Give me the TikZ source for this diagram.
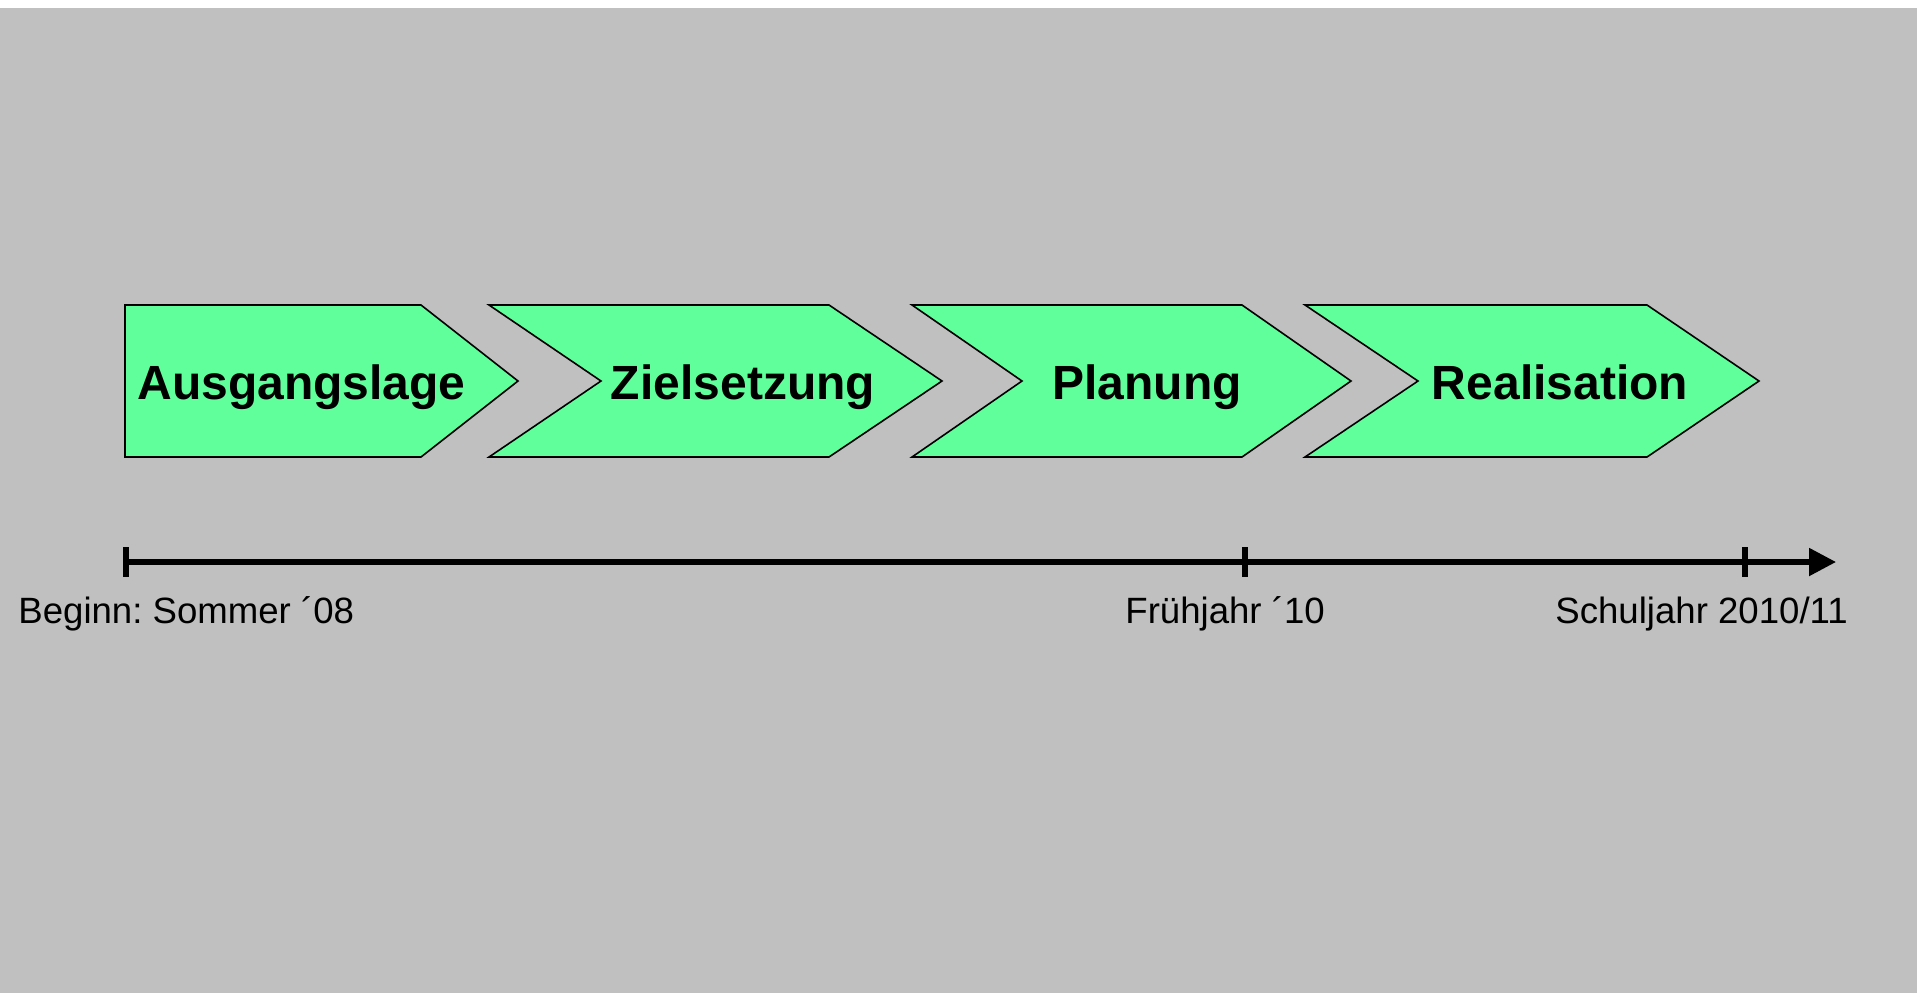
\documentclass[tikz,border=0pt]{standalone}
\usepackage{fontspec}
\setmainfont{Liberation Sans}
\frenchspacing
\usetikzlibrary{arrows.meta}
\definecolor{phasegreen}{RGB}{96,255,156}
\definecolor{panelgray}{RGB}{192,192,192}
\tikzset{
  phase/.style={draw=black, fill=phasegreen, line width=0.8pt, line join=miter},
  phaselabel/.style={font=\fontsize{24pt}{26pt}\selectfont\bfseries, inner sep=0pt},
  datelabel/.style={font=\fontsize{18.3pt}{20pt}\selectfont, inner sep=0pt, anchor=base west},
  axis/.style={line width=2.6pt, -{Triangle[length=13.5pt,width=13.5pt]}},
  tick/.style={line width=2.6pt}
}
\begin{document}
\begin{tikzpicture}[x=0.5pt, y=-0.5pt]
  % canvas and grey panel
  \fill[white] (0,0) rectangle (1921,993);
  \fill[panelgray] (0,8) rectangle (1917,993);
  \useasboundingbox (0,0) rectangle (1921,993);

  % phase chevrons
  \draw[phase] (125,305) -- (421,305) -- (518,381) -- (421,457) -- (125,457) -- cycle;
  \draw[phase] (489,305) -- (829,305) -- (942,381) -- (829,457) -- (489,457) -- (601,381) -- cycle;
  \draw[phase] (912,305) -- (1242,305) -- (1351,381) -- (1242,457) -- (912,457) -- (1022,381) -- cycle;
  \draw[phase] (1305,305) -- (1647,305) -- (1759,381) -- (1647,457) -- (1305,457) -- (1418,381) -- cycle;

  % phase names
  \node[phaselabel, anchor=base west] (p1) at (137,399) {Ausgangslage};
  \node[phaselabel, anchor=base] (p2) at (743,399) {Zielsetzung};
  \node[phaselabel, anchor=base] (p3) at (1147,399) {Planung};
  \node[phaselabel, anchor=base] (p4) at (1560,399) {Realisation};

  % time axis
  \coordinate (t0) at (126,562);
  \coordinate (t1) at (1245,562);
  \coordinate (t2) at (1745,562);
  \coordinate (tend) at (1836,562);
  \draw[axis] (t0) -- (tend);
  \foreach \t in {t0,t1,t2}
    \draw[tick] ([yshift=7.3pt]\t) -- ([yshift=-7.3pt]\t);

  % dates
  \node[datelabel] (d0) at (18,623) {Beginn: Sommer ´08};
  \node[datelabel] (d1) at (1125,623) {Frühjahr ´10};
  \node[datelabel] (d2) at (1555,623) {Schuljahr 2010/11};
\end{tikzpicture}
\end{document}
